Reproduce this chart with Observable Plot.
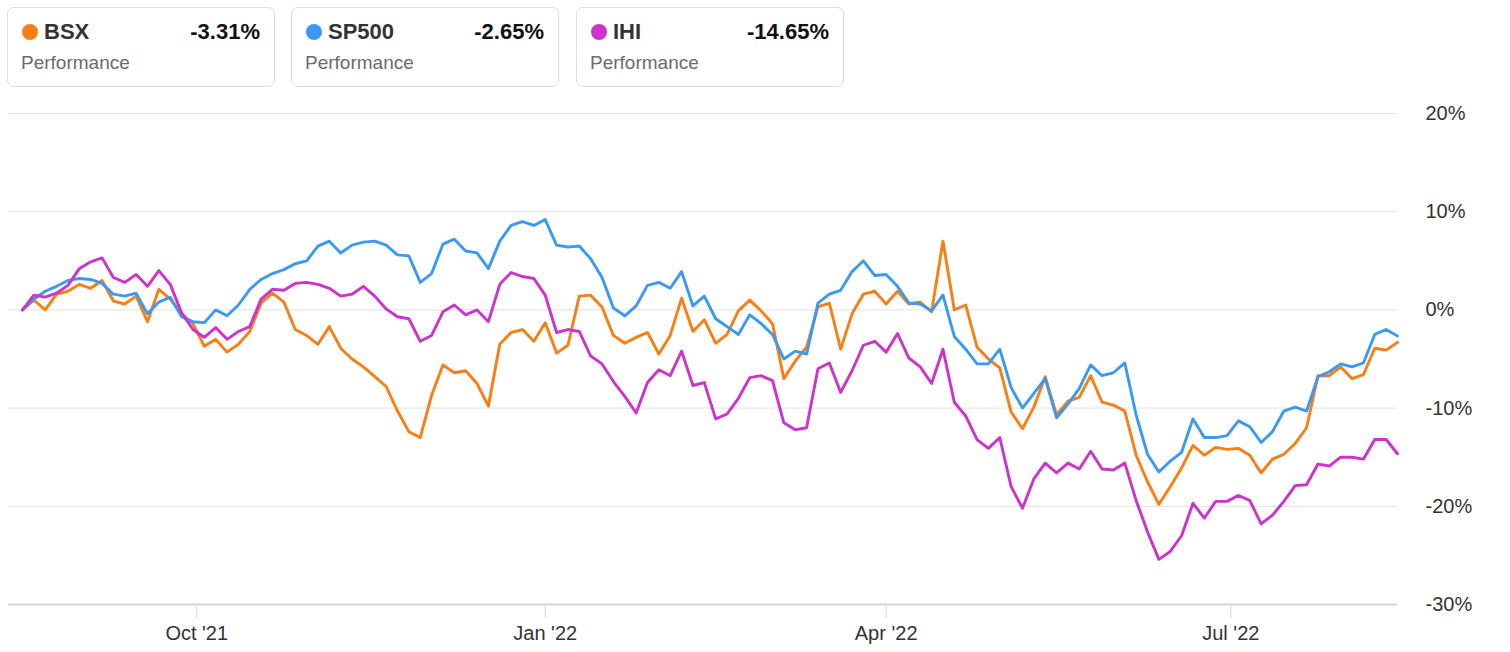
<!DOCTYPE html>
<html>
<head>
<meta charset="utf-8">
<script src="https://cdn.jsdelivr.net/npm/d3@7"></script>
<script src="https://cdn.jsdelivr.net/npm/@observablehq/plot@0.6"></script>
<style>
  html, body { margin: 0; padding: 0; background: #fff; }
  body { width: 1510px; height: 652px; overflow: hidden; font-family: "Liberation Sans", Arial, Helvetica, sans-serif; }
  #legend { position: relative; height: 95px; }
  .card { position: absolute; top: 7px; width: 266px; height: 78px; border: 1px solid #dedede; border-radius: 7px; background: #fff; }
  .dot { position: absolute; left: 14px; top: 16px; width: 16px; height: 16px; border-radius: 50%; }
  .name { position: absolute; left: 36px; top: 13px; font-size: 22px; line-height: 22px; font-weight: bold; color: #333; }
  .val { position: absolute; right: 14px; top: 13px; font-size: 22px; line-height: 22px; font-weight: bold; color: #111; }
  .perf { position: absolute; left: 13px; top: 45px; font-size: 19px; line-height: 19px; color: #6b6b6b; }
  #chart svg { display: block; }
</style>
</head>
<body>
<div id="legend"></div>
<div id="chart"></div>
<script>
// ---- data ----
const names = ["BSX", "SP500", "IHI"];
const colors = ["#fb7d13", "#3a99f6", "#cd33cc"];
const finalPerf = ["-3.31%", "-2.65%", "-14.65%"];

const dates = [
"2021-08-16","2021-08-19","2021-08-22","2021-08-25","2021-08-28","2021-08-31",
"2021-09-03","2021-09-06","2021-09-09","2021-09-12","2021-09-15","2021-09-18","2021-09-21","2021-09-24","2021-09-27","2021-09-30",
"2021-10-03","2021-10-06","2021-10-09","2021-10-12","2021-10-15","2021-10-18","2021-10-21","2021-10-24","2021-10-27","2021-10-30",
"2021-11-02","2021-11-05","2021-11-08","2021-11-11","2021-11-14","2021-11-17","2021-11-20","2021-11-23","2021-11-26","2021-11-29",
"2021-12-02","2021-12-05","2021-12-08","2021-12-11","2021-12-14","2021-12-17","2021-12-20","2021-12-23","2021-12-26","2021-12-29",
"2022-01-01","2022-01-04","2022-01-07","2022-01-10","2022-01-13","2022-01-16","2022-01-19","2022-01-22","2022-01-25","2022-01-28","2022-01-31",
"2022-02-03","2022-02-06","2022-02-09","2022-02-12","2022-02-15","2022-02-18","2022-02-21","2022-02-24","2022-02-27",
"2022-03-02","2022-03-05","2022-03-08","2022-03-11","2022-03-14","2022-03-17","2022-03-20","2022-03-23","2022-03-26","2022-03-29",
"2022-04-01","2022-04-04","2022-04-07","2022-04-10","2022-04-13","2022-04-16","2022-04-19","2022-04-22","2022-04-25","2022-04-28",
"2022-05-01","2022-05-04","2022-05-07","2022-05-10","2022-05-13","2022-05-16","2022-05-19","2022-05-22","2022-05-25","2022-05-28","2022-05-31",
"2022-06-03","2022-06-06","2022-06-09","2022-06-12","2022-06-15","2022-06-18","2022-06-21","2022-06-24","2022-06-27","2022-06-30",
"2022-07-03","2022-07-06","2022-07-09","2022-07-12","2022-07-15","2022-07-18","2022-07-21","2022-07-24","2022-07-27","2022-07-30",
"2022-08-02","2022-08-05","2022-08-08","2022-08-11","2022-08-14"
];

const bsx = [
0.0, 1.0, 0.0, 1.6, 1.9, 2.6, 2.2, 3.0, 0.9, 0.6,
1.4, -1.2, 2.1, 1.1, -0.4, -1.4, -3.7, -3.0, -4.3, -3.5,
-2.2, 0.7, 1.7, 0.8, -2.0, -2.6, -3.5, -1.7, -3.9, -5.0,
-5.8, -6.8, -7.8, -10.3, -12.4, -13.0, -8.7, -5.6, -6.4, -6.2,
-7.5, -9.8, -3.5, -2.3, -2.0, -3.2, -1.3, -4.4, -3.6, 1.4,
1.5, 0.3, -2.6, -3.4, -2.8, -2.3, -4.5, -2.6, 1.2, -2.2,
-1.0, -3.4, -2.5, -0.1, 1.0, -0.1, -1.4, -7.0, -5.2, -3.8,
0.3, 0.7, -4.0, -0.4, 1.6, 1.9, 0.6, 1.9, 0.6, 0.8,
-0.2, 7.0, 0.0, 0.5, -3.8, -5.0, -5.9, -10.4, -12.1, -9.9,
-6.8, -10.7, -9.3, -8.9, -6.7, -9.4, -9.7, -10.3, -14.8, -17.5,
-19.8, -18.0, -16.1, -13.8, -14.8, -14.0, -14.2, -14.1, -14.8, -16.6,
-15.2, -14.7, -13.6, -12.0, -6.7, -6.7, -5.8, -7.0, -6.6, -3.9,
-4.1, -3.31
];

const sp500 = [
0.0, 1.1, 1.9, 2.4, 3.0, 3.2, 3.1, 2.7, 1.6, 1.4,
1.7, -0.4, 0.8, 1.3, -0.7, -1.2, -1.3, 0.0, -0.6, 0.5,
2.1, 3.1, 3.7, 4.1, 4.7, 5.0, 6.5, 7.0, 5.8, 6.6,
6.9, 7.0, 6.6, 5.6, 5.5, 2.8, 3.7, 6.7, 7.2, 6.0,
5.8, 4.2, 7.0, 8.6, 9.0, 8.6, 9.2, 6.6, 6.4, 6.5,
5.2, 3.3, 0.2, -0.6, 0.4, 2.5, 2.8, 2.2, 3.9, 0.4,
1.4, -0.9, -1.7, -2.5, -0.5, -1.4, -2.5, -5.0, -4.2, -4.5,
0.7, 1.6, 2.0, 3.9, 5.0, 3.5, 3.6, 2.4, 0.7, 0.6,
-0.1, 1.5, -2.7, -4.0, -5.5, -5.5, -4.0, -7.9, -10.0, -8.5,
-7.0, -11.0, -9.6, -8.0, -5.6, -6.7, -6.4, -5.4, -10.7, -14.7,
-16.5, -15.4, -14.5, -11.1, -13.0, -13.0, -12.8, -11.3, -11.9, -13.5,
-12.4, -10.3, -9.9, -10.3, -6.8, -6.3, -5.5, -5.8, -5.4, -2.5,
-2.0, -2.65
];

const ihi = [
0.0, 1.5, 1.3, 1.7, 2.5, 4.2, 4.9, 5.3, 3.3, 2.8,
3.6, 2.4, 4.0, 2.6, -0.3, -2.0, -2.8, -1.8, -3.0, -2.2,
-1.7, 1.1, 2.1, 2.0, 2.7, 2.8, 2.6, 2.2, 1.4, 1.6,
2.4, 1.4, 0.1, -0.7, -0.9, -3.2, -2.6, -0.2, 0.5, -0.5,
0.0, -1.2, 2.6, 3.8, 3.4, 3.2, 1.5, -2.3, -2.0, -2.2,
-4.7, -5.5, -7.3, -8.8, -10.5, -7.4, -6.1, -6.7, -4.2, -7.7,
-7.4, -11.1, -10.6, -9.0, -6.9, -6.7, -7.2, -11.5, -12.2, -12.0,
-6.0, -5.4, -8.4, -6.2, -3.6, -3.2, -4.3, -2.4, -4.9, -5.8,
-7.5, -4.0, -9.4, -10.8, -13.2, -14.1, -13.0, -18.0, -20.2, -17.2,
-15.6, -16.6, -15.6, -16.2, -14.4, -16.2, -16.3, -15.6, -19.4, -22.6,
-25.4, -24.6, -23.0, -19.7, -21.2, -19.5, -19.5, -18.9, -19.4, -21.8,
-20.9, -19.5, -17.9, -17.8, -15.7, -15.9, -15.0, -15.0, -15.2, -13.2,
-13.2, -14.65
];

const xTicks = ["2021-10-01", "2022-01-01", "2022-04-01", "2022-07-01"];
const yTicks = [20, 10, 0, -10, -20, -30];

// ---- legend cards ----
const cardLefts = [7, 291, 576];
const legend = document.getElementById("legend");
names.forEach((n, i) => {
  const card = document.createElement("div");
  card.className = "card";
  card.style.left = cardLefts[i] + "px";
  card.innerHTML =
    `<span class="dot" style="background:${colors[i]}"></span>` +
    `<span class="name">${n}</span>` +
    `<span class="val">${finalPerf[i]}</span>` +
    `<div class="perf">Performance</div>`;
  legend.appendChild(card);
});

// ---- chart ----
const parse = d3.utcParse("%Y-%m-%d");
const valuesBy = {BSX: bsx, SP500: sp500, IHI: ihi};
const rows = names.flatMap(n => dates.map((d, i) => ({date: parse(d), value: valuesBy[n][i], name: n})));

const chart = Plot.plot({
  width: 1510,
  height: 557,
  marginTop: 18,
  marginBottom: 48,
  marginLeft: 22,
  marginRight: 113,
  style: {fontFamily: "'Liberation Sans', Arial, Helvetica, sans-serif", background: "#fff", color: "#333"},
  x: {type: "utc", domain: [parse(dates[0]), parse(dates[dates.length - 1])]},
  y: {domain: [-30, 20]},
  color: {domain: names, range: colors},
  marks: [
    Plot.ruleY(yTicks.filter(v => v > -30), {stroke: "#e2e2e2", strokeWidth: 1, insetLeft: -14}),
    Plot.ruleY([-30], {stroke: "#d5d5d5", strokeWidth: 2, insetLeft: -14}),
    Plot.axisX({ticks: xTicks.map(parse), tickFormat: d3.utcFormat("%b '%y"), tickSize: 14, tickPadding: 7,
                fontSize: 20, stroke: "#d8d8d8", fill: "#333", label: null}),
    Plot.axisY({anchor: "right", ticks: yTicks, tickFormat: d => d + "%", tickSize: 0, tickPadding: 28,
                fontSize: 20, fill: "#333", label: null}),
    Plot.line(rows, {x: "date", y: "value", z: "name", stroke: "name", strokeWidth: 2.9,
                     strokeLinejoin: "round", strokeLinecap: "round"})
  ]
});
document.getElementById("chart").appendChild(chart);
</script>
</body>
</html>
